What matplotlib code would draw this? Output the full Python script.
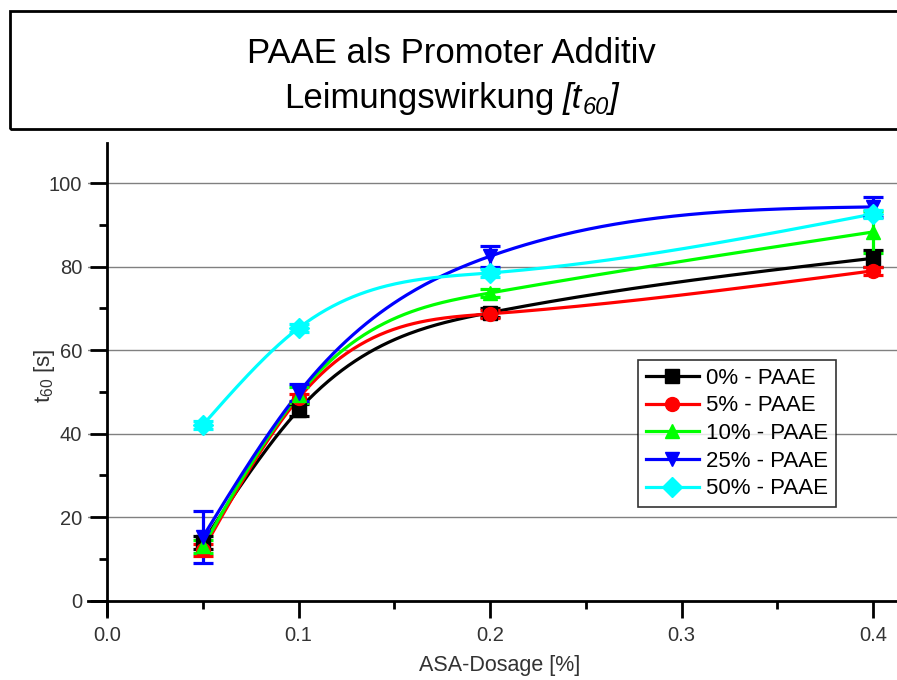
import numpy as np
import matplotlib
matplotlib.use("Agg")
import matplotlib.pyplot as plt
from matplotlib.patches import Rectangle
from matplotlib.ticker import MultipleLocator, FormatStrFormatter

plt.rcParams['font.family'] = ['Liberation Sans', 'DejaVu Sans']
plt.rcParams['mathtext.fontset'] = 'custom'
plt.rcParams['mathtext.rm'] = 'Liberation Sans'
plt.rcParams['mathtext.it'] = 'Liberation Sans:italic'

# ---- data ----
dosage = [0.05, 0.1, 0.2, 0.4]
labels = ["0% - PAAE", "5% - PAAE", "10% - PAAE", "25% - PAAE", "50% - PAAE"]
t60_0 = [14.0, 45.7, 69.0, 82.0]
t60_5 = [12.2, 48.5, 68.7, 79.0]
t60_10 = [13.0, 49.3, 73.7, 88.3]
t60_25 = [15.3, 49.8, 82.5, 94.3]
t60_50 = [42.1, 65.3, 78.5, 92.6]
err_0 = [1.5, 1.5, 1.0, 2.0]
err_5 = [1.5, 1.0, 1.0, 1.0]
err_10 = [1.5, 2.0, 1.0, 5.0]
err_25 = [6.3, 2.0, 2.5, 2.3]
err_50 = [1.0, 1.0, 1.0, 1.0]
colors = ["#000000", "#FF0000", "#00FF00", "#0000FF", "#00FFFF"]
markers = ["s", "o", "^", "v", "D"]
xticks = [0.0, 0.1, 0.2, 0.3, 0.4]
yticks = [0, 20, 40, 60, 80, 100]


def natural_spline(x, y, xs):
    x = np.asarray(x, float); y = np.asarray(y, float)
    n = len(x)
    h = np.diff(x)
    A = np.zeros((n, n)); b = np.zeros(n)
    A[0, 0] = 1; A[-1, -1] = 1
    for i in range(1, n - 1):
        A[i, i - 1] = h[i - 1]
        A[i, i] = 2 * (h[i - 1] + h[i])
        A[i, i + 1] = h[i]
        b[i] = 6 * ((y[i + 1] - y[i]) / h[i] - (y[i] - y[i - 1]) / h[i - 1])
    M = np.linalg.solve(A, b)
    ys = np.empty_like(xs)
    for k, xv in enumerate(xs):
        i = min(max(np.searchsorted(x, xv) - 1, 0), n - 2)
        t1 = x[i + 1] - xv; t0 = xv - x[i]
        ys[k] = (M[i] * t1 ** 3 + M[i + 1] * t0 ** 3) / (6 * h[i]) \
            + (y[i] / h[i] - M[i] * h[i] / 6) * t1 \
            + (y[i + 1] / h[i] - M[i + 1] * h[i] / 6) * t0
    return ys


W, H = 897, 680
fig = plt.figure(figsize=(W / 100, H / 100), dpi=100)
renderer = fig.canvas.get_renderer()

# title box
fig.patches.append(Rectangle((10 / W, 1 - 129 / H), 1.0, 118 / H,
                             transform=fig.transFigure, fill=False,
                             edgecolor='black', linewidth=2))
fig.text(451 / W, 1 - 63 / H, "PAAE als Promoter Additiv", ha='center', va='baseline',
         fontsize=25)

# second title line: upright word + italic "[t60]"
pieces = [("Leimungswirkung", 'normal', 25, 0), (None, None, None, 9),
          ("[t", 'italic', 25, 0), ("60", 'italic', 17, -6), ("]", 'italic', 25, 0)]
objs = []
total = 0.0
for txt, style, size, dy in pieces:
    if txt is None:
        total += dy
        objs.append(None)
        continue
    t = fig.text(0, 1 - (108 - dy) / H, txt, ha='left', va='baseline', fontsize=size,
                 style=style)
    w = t.get_window_extent(renderer).width
    objs.append((t, w))
    total += w
xcur = 451 - total / 2
for (txt, style, size, dy), o in zip(pieces, objs):
    if o is None:
        xcur += dy
        continue
    o[0].set_x(xcur / W)
    xcur += o[1]

ax = fig.add_axes([88 / W, 1 - 615 / H, (W - 88) / W, (615 - 143) / H])
ax.set_xlim(-0.01, 0.4125)
ax.set_ylim(-3.4, 109.6)

series = [t60_0, t60_5, t60_10, t60_25, t60_50]
errs = [err_0, err_5, err_10, err_25, err_50]
xs = np.linspace(dosage[0], dosage[-1], 300)
for yv, ev, c, m, lab in zip(series, errs, colors, markers, labels):
    ax.plot(xs, natural_spline(dosage, yv, xs), color=c, lw=2.3, zorder=3)
    ax.errorbar(dosage, yv, yerr=ev, fmt='none', ecolor=c, elinewidth=2.3,
                capsize=7, capthick=2.3, zorder=4)
    ax.plot(dosage, yv, linestyle='none', marker=m, color=c, markersize=10, zorder=5)
    ax.plot([], [], color=c, lw=2.3, marker=m, markersize=10, label=lab)

for gy in yticks[1:]:
    ax.axhline(gy, color='#808080', lw=1, zorder=1)

for s in ['top', 'right']:
    ax.spines[s].set_visible(False)
ax.spines['left'].set_position(('data', 0))
ax.spines['bottom'].set_position(('data', 0))
ax.spines['left'].set_linewidth(2)
ax.spines['bottom'].set_linewidth(2)
ax.set_xticks(xticks)
ax.set_yticks(yticks)
ax.xaxis.set_major_formatter(FormatStrFormatter('%.1f'))
ax.xaxis.set_minor_locator(MultipleLocator(0.05))
ax.yaxis.set_minor_locator(MultipleLocator(10))
ax.tick_params(which='major', direction='out', length=12, width=2, labelsize=14.5,
               labelcolor='#333333', pad=6)
ax.tick_params(which='minor', direction='out', length=6, width=2)

ax.set_xlabel("ASA-Dosage [%]", fontsize=15.5, color='#333333', va='center')
ax.set_ylabel(r"t$_{60}$ [s]", fontsize=16, color='#333333', va='center')
ax.xaxis.set_label_coords((500 - 88) / 809, (615 - 665) / 472)
ax.yaxis.set_label_coords((45 - 88) / 809, (615 - 376) / 472)

leg = ax.legend(loc='upper left', bbox_to_anchor=((638 - 88) / 809, (615 - 360) / 472),
                fontsize=16, frameon=True, fancybox=False, edgecolor='black',
                handlelength=2.4, handletextpad=0.3, borderpad=0.35, labelspacing=0.3,
                borderaxespad=0)
leg.get_frame().set_linewidth(1.2)
leg.set_zorder(10)

fig.savefig("out.png", dpi=100)
